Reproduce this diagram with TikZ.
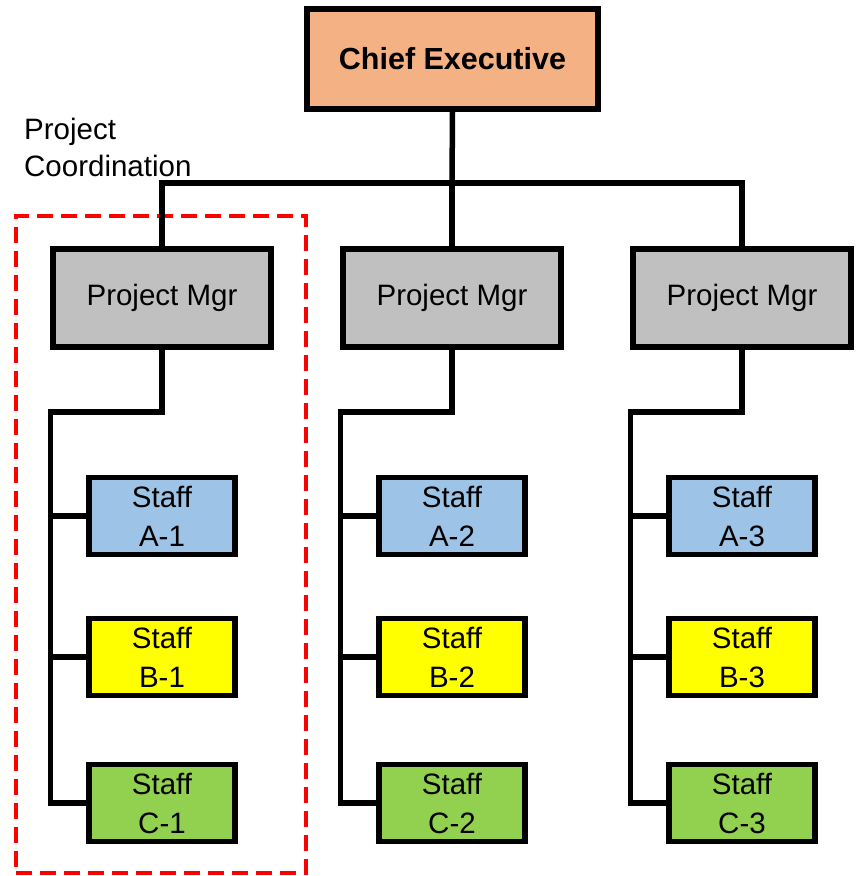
\documentclass[tikz,border=0pt]{standalone}
\usepackage{fontspec}
\setmainfont{Liberation Sans}
\definecolor{ceFill}{RGB}{244,177,131}
\definecolor{pmFill}{RGB}{192,192,192}
\definecolor{aFill}{RGB}{157,195,230}
\definecolor{bFill}{RGB}{255,255,0}
\definecolor{cFill}{RGB}{146,208,80}
\definecolor{grpRed}{RGB}{255,0,0}
\tikzset{
  box/.style={draw=black, line width=5.5pt, rectangle, inner sep=0pt, align=center,
    font=\fontsize{29.5}{39}\selectfont},
  ceBox/.style={box, fill=ceFill, minimum width=291pt, minimum height=100pt, font=\fontsize{30.5}{39}\selectfont\bfseries},
  pmBox/.style={box, fill=pmFill, minimum width=218pt, minimum height=98pt},
  staffBox/.style={box, minimum width=146pt, minimum height=77pt},
  conn/.style={draw=black, line width=5.5pt, line join=miter},
  grpBox/.style={draw=grpRed, line width=3.5pt, dash pattern=on 16pt off 8pt, rectangle, inner sep=0pt},
}
\begin{document}
\begin{tikzpicture}[x=1pt,y=-1pt]
\useasboundingbox (0,0) rectangle (859,876);
% group
\node[grpBox, minimum width=290pt, minimum height=657pt] (grp) at (161,544.5) {};
\node[anchor=base west, align=left, font=\fontsize{29.5}{37}\selectfont, inner sep=0pt] (lbl) at (24,176) {Project\\Coordination};
% boxes
\node[ceBox] (ce) at (452.5,59) {Chief Executive};
\node[pmBox] (pm1) at (162,298) {Project Mgr};
\node[pmBox] (pm2) at (452,298) {Project Mgr};
\node[pmBox] (pm3) at (742,298) {Project Mgr};
\coordinate (bus) at (452,183);
\coordinate (trunk) at (0,412);
\foreach \i/\x in {1/162,2/452,3/742}{
  \node[staffBox, fill=aFill] (a\i) at (\x,516) {Staff\\A-\i};
  \node[staffBox, fill=bFill] (b\i) at (\x,657) {Staff\\B-\i};
  \node[staffBox, fill=cFill] (c\i) at (\x,803) {Staff\\C-\i};
  \draw[conn] (pm\i.south) -- (pm\i.south |- trunk) -- (pm\i.west |- trunk) -- (pm\i.west |- c\i.west) -- (c\i.west);
  \draw[conn] (pm\i.west |- a\i.west) -- (a\i.west);
  \draw[conn] (pm\i.west |- b\i.west) -- (b\i.west);
}
\draw[conn] (ce.south) -- (bus);
\draw[conn] (pm1.north) -- (pm1.north |- bus) -- (pm3.north |- bus) -- (pm3.north);
\draw[conn] (pm2.north |- bus) -- (pm2.north);
\end{tikzpicture}
\end{document}
